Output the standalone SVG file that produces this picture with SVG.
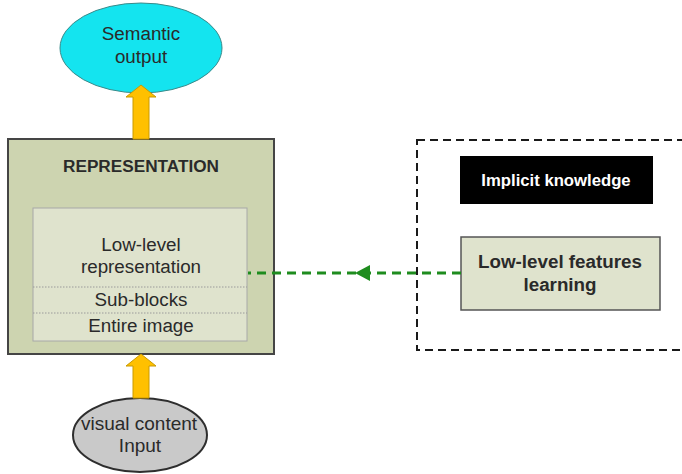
<svg xmlns="http://www.w3.org/2000/svg" width="682" height="474" viewBox="0 0 682 474">
  <defs>
    <style>
      .t { font-family: "Liberation Sans", Arial, sans-serif; fill: #2a2a2a; text-anchor: middle; }
      .b { font-weight: bold; }
      .arrow-up { fill: #ffc000; stroke: #c99a00; stroke-width: 1; }
      .dash-green { stroke: #1e8c1e; stroke-width: 3; stroke-dasharray: 9 6; fill: none; }
      .sep { stroke: #9a9a9a; stroke-width: 1; stroke-dasharray: 1.5 1.5; }
    </style>
  </defs>

  <rect width="682" height="474" fill="#ffffff"/>

  <!-- Semantic output -->
  <g id="semantic-output">
    <ellipse cx="141" cy="48" rx="81" ry="45" fill="#14e4ef" stroke="#3a8a8a" stroke-width="1"/>
    <text class="t" x="141" y="40" font-size="18.8">Semantic</text>
    <text class="t" x="141" y="63" font-size="18.8">output</text>
  </g>

  <!-- Representation block -->
  <g id="representation">
    <rect x="8" y="139" width="266" height="215" fill="#cdd4b0" stroke="#454545" stroke-width="2"/>
    <text class="t b" x="141" y="172" font-size="17.2">REPRESENTATION</text>
    <rect x="33" y="208" width="214" height="133" fill="#dfe3cd" stroke="#a8a8a8" stroke-width="1"/>
    <line class="sep" x1="33" y1="287" x2="247" y2="287"/>
    <line class="sep" x1="33" y1="313" x2="247" y2="313"/>
    <text class="t" x="141" y="251" font-size="18.8">Low-level</text>
    <text class="t" x="141" y="273" font-size="18.8">representation</text>
    <text class="t" x="141" y="306" font-size="18.8">Sub-blocks</text>
    <text class="t" x="141" y="332" font-size="18.8">Entire image</text>
  </g>

  <!-- Visual content input -->
  <g id="visual-input">
    <ellipse cx="140" cy="435" rx="67" ry="37" fill="#c9c9c9" stroke="#2e2e2e" stroke-width="2"/>
    <text class="t" x="139" y="430" font-size="19">visual content</text>
    <text class="t" x="140" y="452" font-size="19">Input</text>
  </g>

  <!-- Knowledge frame -->
  <g id="knowledge-frame">
    <rect x="417" y="140" width="280" height="210" fill="none" stroke="#1a1a1a" stroke-width="2" stroke-dasharray="8 5"/>
  </g>

  <g id="implicit-knowledge">
    <rect x="460" y="156" width="193" height="48" fill="#000000"/>
    <text class="t b" x="556" y="186" font-size="16.7" style="fill:#ffffff">Implicit knowledge</text>
  </g>

  <g id="features-learning">
    <rect x="461" y="237" width="199" height="73" fill="#dfe3cd" stroke="#555555" stroke-width="1.5"/>
    <text class="t b" x="560" y="268" font-size="18.8">Low-level features</text>
    <text class="t b" x="560" y="291" font-size="18.8">learning</text>
  </g>

  <!-- Connectors -->
  <g id="connectors">
    <polygon class="arrow-up" points="133,139 133,97 126,97 141,85 156,97 149,97 149,139"/>
    <polygon class="arrow-up" points="133,398 133,366 126,366 141,354 156,366 149,366 149,398"/>
    <line class="dash-green" x1="461" y1="273" x2="369" y2="273"/>
    <line class="dash-green" x1="356" y1="273" x2="248" y2="273"/>
    <path d="M355,273 L370,265 L370,281 Z" fill="#1e8c1e"/>
  </g>
</svg>
